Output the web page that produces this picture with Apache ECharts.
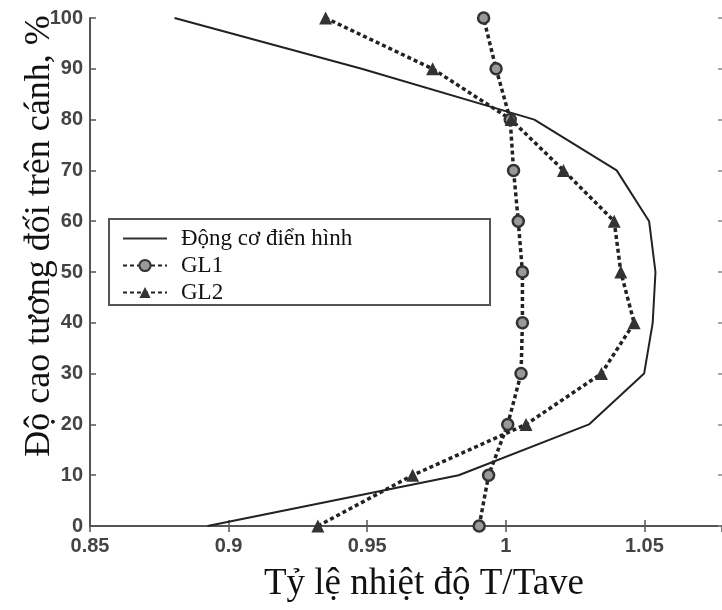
<!DOCTYPE html>
<html>
<head>
<meta charset="utf-8">
<script src="https://cdn.jsdelivr.net/npm/echarts@6/dist/echarts.min.js"></script>
<style>html,body{margin:0;padding:0;background:#fff}#c{width:722px;height:610px}</style>
</head>
<body>
<div id="c"></div>
<script>
const heights = [0, 10, 20, 30, 40, 50, 60, 70, 80, 90, 100];
const typicalEngine = [0.8924, 0.983, 1.030, 1.0499, 1.053, 1.054, 1.0517, 1.040, 1.0103, 0.948, 0.8805];
const gl1 = [0.9904, 0.9938, 1.0007, 1.0055, 1.006, 1.006, 1.0045, 1.0028, 1.0016, 0.9965, 0.992];
const gl2 = [0.9322, 0.9664, 1.0073, 1.0345, 1.0463, 1.0415, 1.0391, 1.0208, 1.0019, 0.9736, 0.935];
const seriesNames = ['Động cơ điển hình', 'GL1', 'GL2'];
const xTicks = ['0.85', '0.9', '0.95', '1', '1.05'];
const xTitle = 'Tỷ lệ nhiệt độ T/Tave';
const yTitle = 'Độ cao tương đối trên cánh, %';

const pair = (xs) => xs.map((v, i) => [v, heights[i]]);
const chart = echarts.init(document.getElementById('c'));
const tickLabel = {color: '#444', fontFamily: 'Liberation Sans', fontWeight: 'bold', fontSize: 20};
const axisLineStyle = {color: '#555', width: 2};
chart.setOption({
  animation: false,
  backgroundColor: '#fff',
  grid: {left: 90, right: 0, top: 18, bottom: 84},
  xAxis: [{
    type: 'value', min: 0.85, max: 1.078, interval: 0.05,
    axisLine: {show: true, lineStyle: axisLineStyle},
    axisTick: {show: true, inside: true, length: 6, lineStyle: {color: '#555', width: 1.5}},
    splitLine: {show: false},
    axisLabel: Object.assign({margin: 10, showMaxLabel: false, formatter: v => {
      const s = (Math.round(v * 100) / 100).toString();
      return xTicks.indexOf(s) >= 0 ? s : '';
    }}, tickLabel)
  }, {
    type: 'value', position: 'top', min: 0.85, max: 1.078, interval: 0.05,
    axisLine: {show: true, lineStyle: axisLineStyle},
    axisTick: {show: true, inside: true, length: 6, lineStyle: {color: '#555', width: 1.5}},
    axisLabel: {show: false}, splitLine: {show: false}
  }],
  yAxis: [{
    type: 'value', min: 0, max: 100, interval: 10,
    axisLine: {show: true, lineStyle: axisLineStyle},
    axisTick: {show: true, inside: true, length: 6, lineStyle: {color: '#555', width: 1.5}},
    splitLine: {show: false},
    axisLabel: Object.assign({margin: 7}, tickLabel)
  }, {
    type: 'value', position: 'right', min: 0, max: 100, interval: 10,
    axisLine: {show: false},
    axisTick: {show: true, inside: true, length: 4, lineStyle: {color: '#888', width: 1.5}},
    axisLabel: {show: false}, splitLine: {show: false}
  }],
  legend: {
    orient: 'vertical', left: 117, top: 222, itemGap: 4,
    itemWidth: 44, itemHeight: 14,
    textStyle: {fontFamily: 'Liberation Serif', fontSize: 23, color: '#111', padding: [0, 0, 0, 9]},
    data: [
      {name: seriesNames[0], icon: 'path://M0,0 H44 V2.2 H0 Z', itemStyle: {color: '#333'}},
      {name: seriesNames[1]},
      {name: seriesNames[2]}
    ]
  },
  graphic: [
    {type: 'rect', shape: {x: 109, y: 219, width: 381, height: 86}, style: {fill: 'none', stroke: '#555', lineWidth: 2}, z: 5},
    {type: 'text', x: 424, y: 584, style: {text: xTitle, x: 0, y: 0, align: 'center', verticalAlign: 'middle', font: '37px "Liberation Serif"', fill: '#111'}},
    {type: 'text', rotation: Math.PI / 2, x: 40, y: 236, style: {text: yTitle, x: 0, y: 0, align: 'center', verticalAlign: 'middle', font: '36px "Liberation Serif"', fill: '#111'}}
  ],
  series: [
    {name: seriesNames[0], type: 'line', data: pair(typicalEngine), showSymbol: false, symbol: 'none',
     lineStyle: {color: '#222', width: 2}, itemStyle: {color: '#222'}},
    {name: seriesNames[1], type: 'line', data: pair(gl1), symbol: 'circle', symbolSize: 11,
     lineStyle: {color: '#222', width: 3.5, type: [4, 3]}, itemStyle: {color: '#999', borderColor: '#333', borderWidth: 2.5}},
    {name: seriesNames[2], type: 'line', data: pair(gl2), symbol: 'triangle', symbolSize: 13,
     lineStyle: {color: '#222', width: 3.5, type: [4, 3]}, itemStyle: {color: '#333'}}
  ]
});
</script>
</body>
</html>
